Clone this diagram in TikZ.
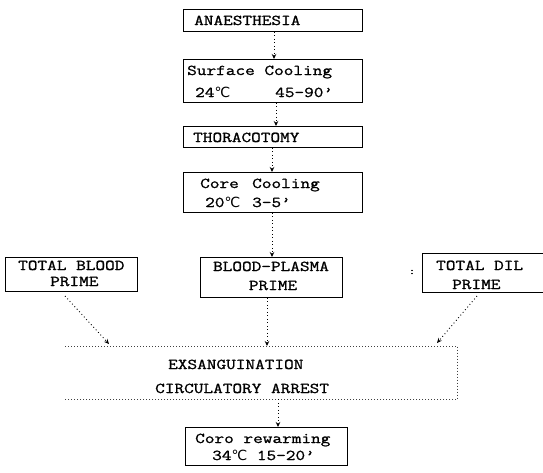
\documentclass[tikz,border=0pt]{standalone}
\usepackage{fontspec}
\setmainfont{Latin Modern Mono}[FakeStretch=1.25, FakeBold=1.2]
\newfontfamily\djv{DejaVu Sans}
\usetikzlibrary{arrows.meta}
\newcommand{\degc}{{\djv\fontsize{14}{16}\selectfont ℃}}
\begin{document}
\begin{tikzpicture}[x=1pt,y=-1pt,
  box/.style={draw, line width=0.8pt, inner sep=0pt, anchor=north west},
  txt/.style={anchor=base west, inner sep=0pt, font=\fontsize{15}{18}\selectfont},
  flow/.style={line width=0.9pt, dash pattern=on 0.9pt off 2.6pt, -{Stealth[length=5pt,width=4.5pt]}},
  exsline/.style={line width=0.7pt, dash pattern=on 0.8pt off 2.2pt, black!75}]
\useasboundingbox (0,0) rectangle (543,472);
% boxes
\node[box, minimum width=179pt, minimum height=22pt] (A) at (183,9) {};
\node[box, minimum width=179pt, minimum height=43pt] (S) at (183,59) {};
\node[box, minimum width=179pt, minimum height=21pt] (T) at (183,126) {};
\node[box, minimum width=179pt, minimum height=40pt] (C) at (183,172) {};
\node[box, minimum width=142pt, minimum height=40pt] (BP) at (200,257) {};
\node[box, minimum width=132pt, minimum height=34pt] (TB) at (5,257) {};
\node[box, minimum width=125pt, minimum height=39pt] (TD) at (422,253) {};
\node[inner sep=0pt, anchor=north west, minimum width=392pt, minimum height=53pt] (E) at (65,346) {};
\node[box, minimum width=162pt, minimum height=38pt] (R) at (185,427) {};
\draw[exsline] (E.north west) -- (E.north east) -- (E.south east) -- (E.south west);
% texts
\node[txt] (tA) at (194,25) {ANAESTHESIA};
\node[txt] (tS1) at (187,75) {Surface Cooling};
\node[txt] (tS2) at (195,97) {24\degc};
\node[txt] (tS3) at (275,97) {45-90'};
\node[txt] (tT) at (193,142) {THORACOTOMY};
\node[txt] (tC1) at (200,188) {Core};
\node[txt] (tC2) at (252,188) {Cooling};
\node[txt] (tC3) at (205,207) {20\degc};
\node[txt] (tC4) at (252,207) {3-5'};
\node[txt, anchor=base] (tBP1) at (271,271) {BLOOD-PLASMA};
\node[txt, anchor=base] (tBP2) at (273,290) {PRIME};
\node[txt] (tTB1) at (18,270) {TOTAL BLOOD};
\node[txt] (tTB2) at (50,286) {PRIME};
\node[txt] (tTD1) at (436,270) {TOTAL DIL};
\node[txt] (tTD2) at (452,289) {PRIME};
\node[inner sep=0pt, font=\fontsize{10}{12}\selectfont] (colon) at (412,272) {:};
\node[txt] (tE1) at (168,369) {EXSANGUINATION};
\node[txt] (tE2) at (155,393) {CIRCULATORY ARREST};
\node[txt] (tR1) at (195,443) {Coro rewarming};
\node[txt] (tR2) at (212,460) {34\degc{} 15-20'};
% connector x positions
\coordinate (x1) at (274,0);
\coordinate (x2) at (276,0);
\coordinate (x3) at (272,0);
\coordinate (x4) at (272,0);
\coordinate (x5) at (267,0);
\coordinate (x6) at (278,0);
\coordinate (tbs) at (65,296);
\coordinate (tbe) at (109,344);
\coordinate (tds) at (477,296);
\coordinate (tde) at (437,343);
\draw[flow] (A.south -| x1) -- (S.north -| x1);
\draw[flow] (S.south -| x2) -- (T.north -| x2);
\draw[flow] (T.south -| x3) -- (C.north -| x3);
\draw[flow] (C.south -| x4) -- (BP.north -| x4);
\draw[flow] (BP.south -| x5) -- (E.north -| x5);
\draw[flow] (tbs) -- (tbe);
\draw[flow] (tds) -- (tde);
\draw[flow] (E.south -| x6) -- (R.north -| x6);
\end{tikzpicture}
\end{document}
